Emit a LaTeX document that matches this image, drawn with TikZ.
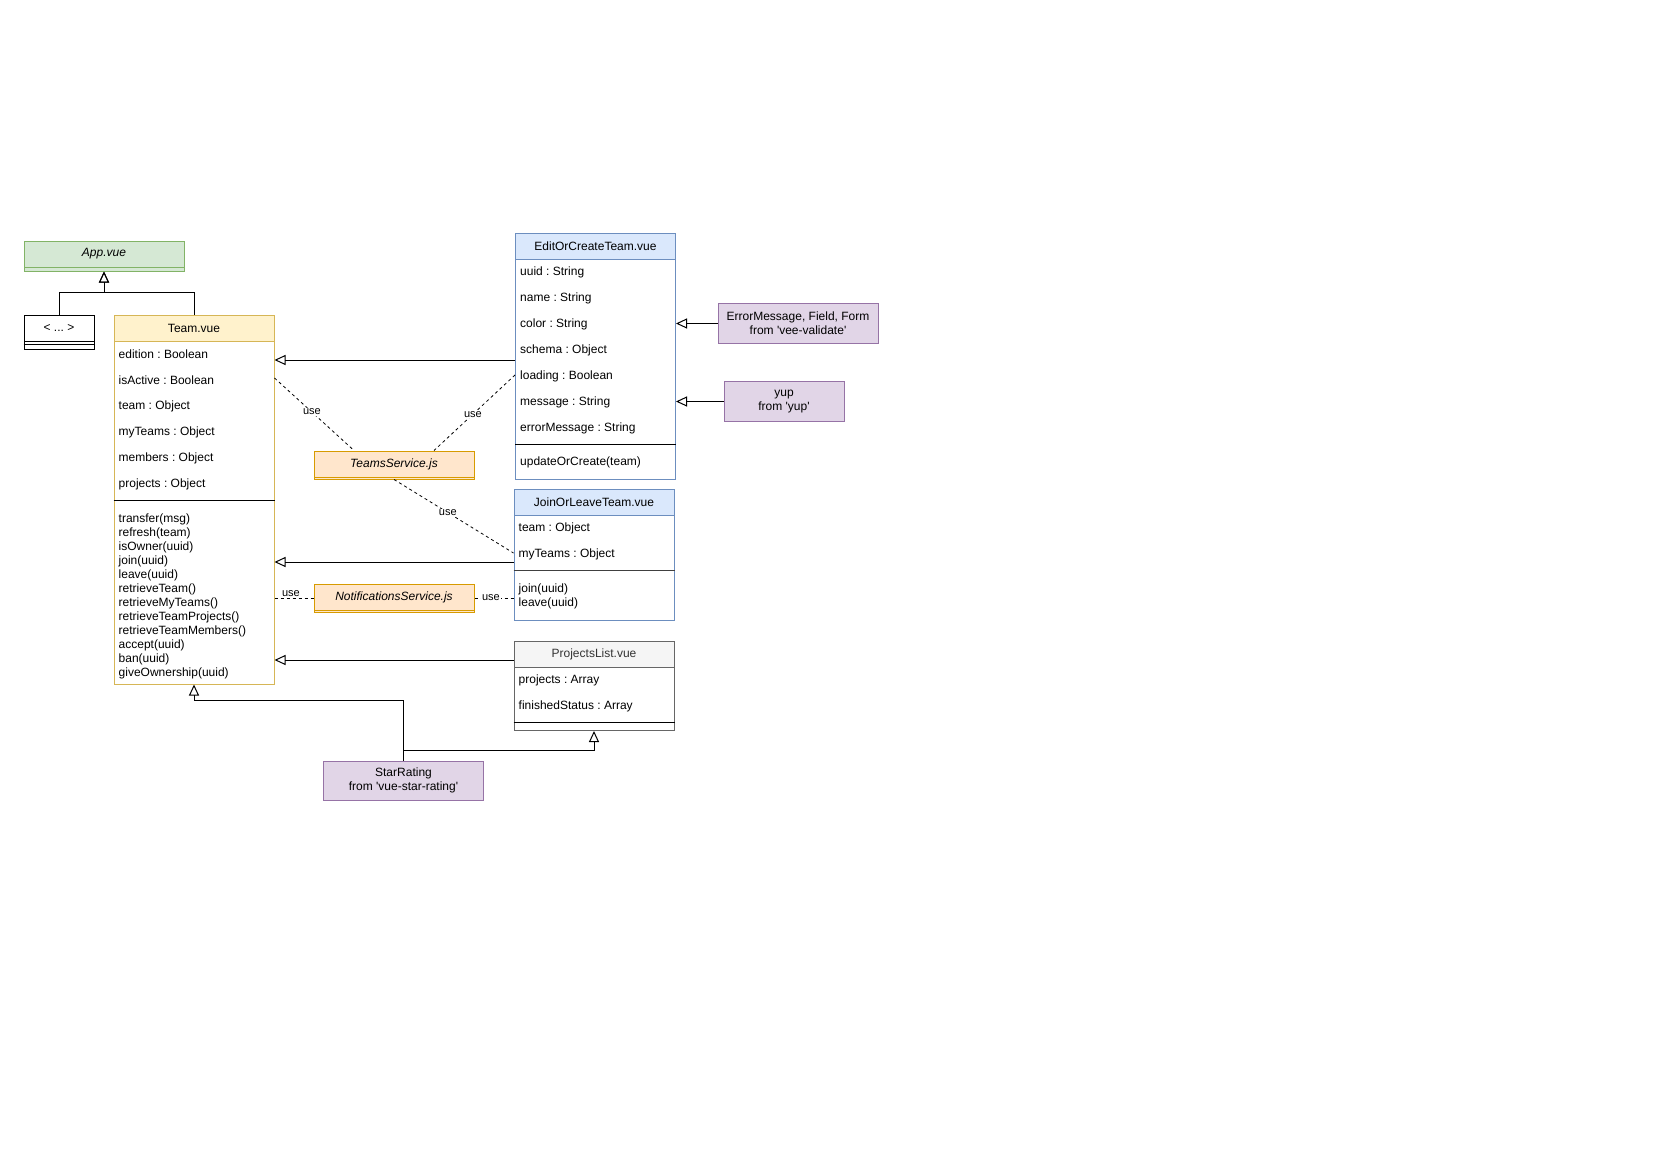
\documentclass[tikz,border=0pt]{standalone}
\usepackage{fontspec}
\setmainfont{Liberation Sans}[Ligatures=TeXOff]
\usetikzlibrary{arrows.meta,calc}
\frenchspacing

% drawio-like palette
\definecolor{grnF}{HTML}{D5E8D4}\definecolor{grnS}{HTML}{82B366}
\definecolor{yelF}{HTML}{FFF2CC}\definecolor{yelS}{HTML}{D6B656}
\definecolor{bluF}{HTML}{DAE8FC}\definecolor{bluS}{HTML}{6C8EBF}
\definecolor{orgF}{HTML}{FFE6CC}\definecolor{orgS}{HTML}{D79B00}
\definecolor{purF}{HTML}{E1D5E7}\definecolor{purS}{HTML}{9673A6}
\definecolor{gryF}{HTML}{F5F5F5}\definecolor{gryS}{HTML}{666666}
\definecolor{gryT}{HTML}{333333}

\tikzset{
  txt/.style={font=\fontsize{12pt}{14pt}\selectfont},
  cbody/.style={txt, draw, fill=white, rectangle, inner sep=0pt, anchor=north west, line width=1pt},
  chead/.style={txt, draw, rectangle, inner sep=0pt, anchor=north west, line width=1pt, minimum height=26pt},
  row/.style={txt, anchor=west, inner sep=0pt},
  note/.style={txt, draw=purS, fill=purF, rectangle, inner sep=0pt, anchor=north west, line width=1pt, align=center},
  sep/.style={line width=1pt},
  inh/.style={-{Triangle[open,length=11pt,width=10pt]}, line width=1pt},
  uses/.style={dash pattern=on 3pt off 3pt, line width=0.8pt},
  ulabel/.style={font=\fontsize{11pt}{13pt}\selectfont, fill=white, inner sep=1pt},
}

\begin{document}
\begin{tikzpicture}[x=1pt,y=-1pt]
\useasboundingbox (0,0) rectangle (1654,1169);
\fill[white] (0,0) rectangle (1654,1169);

% ---- App.vue
\node[cbody, draw=grnS, fill=grnF, minimum width=160pt, minimum height=30pt] (app) at (23.5,240.5) {};
\node[chead, draw=grnS, fill=grnF, minimum width=160pt, font=\fontsize{12pt}{14pt}\selectfont\itshape] (appH) at (app.north west) {App.vue};

% ---- < ... >
\node[cbody, draw=black, minimum width=70pt, minimum height=34pt] (dots) at (23.5,314.5) {};
\node[chead, draw=black, fill=white, minimum width=70pt] (dotsH) at (dots.north west) {< ... >};
\draw[sep] (dots.west |- 0,344.5) -- (dots.east |- 0,344.5);

% ---- Team.vue
\node[cbody, draw=yelS, minimum width=160pt, minimum height=369pt] (team) at (113.5,314.5) {};
\node[chead, draw=yelS, fill=yelF, minimum width=160pt] (teamH) at (team.north west) {Team.vue};
\foreach \t [count=\i] in {edition : Boolean, isActive : Boolean, team : Object, myTeams : Object, members : Object, projects : Object}
  \node[row] (team-a\i) at (118.5,328.5+26*\i) {\t};
\draw[sep] (team.west |- 0,500.5) -- (team.east |- 0,500.5);
\foreach \t [count=\i] in {transfer(msg), refresh(team), isOwner(uuid), join(uuid), leave(uuid), retrieveTeam(), retrieveMyTeams(), retrieveTeamProjects(), retrieveTeamMembers(), accept(uuid), ban(uuid), giveOwnership(uuid)}
  \node[row] (team-m\i) at (118.5,505+14*\i) {\t};

% ---- EditOrCreateTeam.vue
\node[cbody, draw=bluS, minimum width=160pt, minimum height=246pt] (edit) at (515,232.5) {};
\node[chead, draw=bluS, fill=bluF, minimum width=160pt] (editH) at (edit.north west) {EditOrCreateTeam.vue};
\foreach \t [count=\i] in {uuid : String, name : String, color : String, schema : Object, loading : Boolean, message : String, errorMessage : String}
  \node[row] (edit-a\i) at (520,246.5+26*\i) {\t};
\draw[sep] (edit.west |- 0,444.5) -- (edit.east |- 0,444.5);
\node[row] (edit-m1) at (520,462.5) {updateOrCreate(team)};

% ---- JoinOrLeaveTeam.vue
\node[cbody, draw=bluS, minimum width=160pt, minimum height=131pt] (join) at (513.5,488.5) {};
\node[chead, draw=bluS, fill=bluF, minimum width=160pt] (joinH) at (join.north west) {JoinOrLeaveTeam.vue};
\node[row] (join-a1) at (518.5,528.5) {team : Object};
\node[row] (join-a2) at (518.5,554.5) {myTeams : Object};
\draw[sep, draw=black!75] (join.west |- 0,570.5) -- (join.east |- 0,570.5);
\node[row] (join-m1) at (518.5,589) {join(uuid)};
\node[row] (join-m2) at (518.5,603) {leave(uuid)};

% ---- ProjectsList.vue
\node[cbody, draw=gryS, minimum width=160pt, minimum height=89.5pt] (proj) at (513.5,640.5) {};
\node[chead, draw=gryS, fill=gryF, text=gryT, minimum width=160pt] (projH) at (proj.north west) {ProjectsList.vue};
\node[row] (proj-a1) at (518.5,680.5) {projects : Array};
\node[row] (proj-a2) at (518.5,706.5) {finishedStatus : Array};
\draw[sep] (proj.west |- 0,722.5) -- (proj.east |- 0,722.5);

% ---- services
\node[cbody, draw=orgS, fill=orgF, minimum width=160pt, minimum height=28pt] (ts) at (313.5,450.5) {};
\node[chead, draw=orgS, fill=orgF, minimum width=160pt, minimum height=26.5pt, font=\fontsize{12pt}{14pt}\selectfont\itshape] (tsH) at (ts.north west) {TeamsService.js};
\node[cbody, draw=orgS, fill=orgF, minimum width=160pt, minimum height=28pt] (ns) at (313.5,583.5) {};
\node[chead, draw=orgS, fill=orgF, minimum width=160pt, minimum height=26.5pt, font=\fontsize{12pt}{14pt}\selectfont\itshape] (nsH) at (ns.north west) {NotificationsService.js};

% ---- external imports
\node[note, minimum width=160pt, minimum height=40pt] (vee) at (717.5,303) {ErrorMessage, Field, Form\\from 'vee-validate'};
\node[note, minimum width=120pt, minimum height=40pt] (yup) at (723.5,381) {yup\\from 'yup'};
\node[note, minimum width=160pt, minimum height=39pt] (star) at (323,760.5) {StarRating\\from 'vue-star-rating'};

% ---- inheritance
\draw[inh] (dots.north) -- ++(0,-22) -| (app.south);
\draw[inh] (team.north) -- ++(0,-22) -| (app.south);
\draw[inh] (edit.west |- 0,360) -- (team.east |- 0,360);
\draw[inh] (join.west |- 0,562) -- (team.east |- 0,562);
\draw[inh] (proj.west |- 0,660) -- (team.east |- 0,660);
\draw[inh] (vee.west) -- (edit.east |- vee.west);
\draw[inh] (yup.west) -- (edit.east |- yup.west);
\draw[inh] (star.north) -- ++(0,-60) -| (team.south);
\draw[inh] (star.north) -- ++(0,-10.5) -| (proj.south);

% ---- usage (dashed)
\draw[uses] (team.east |- 0,378) -- ($(ts.north)+(-40,0)$) node[ulabel, pos=0.47] (u1) {use};
\draw[uses] (edit.west |- 0,375) -- ($(ts.north)+(40,0)$) node[ulabel, pos=0.52] (u2) {use};
\draw[uses] (ts.south) -- (join.west |- 0,553) node[ulabel, pos=0.45] (u3) {use};
\draw[uses] (team.east |- ns.west) -- (ns.west) node[ulabel, pos=0.42, yshift=4pt] (u4) {use};
\draw[uses] (ns.east) -- (join.west |- ns.east) node[ulabel, pos=0.42] (u5) {use};
\end{tikzpicture}
\end{document}
